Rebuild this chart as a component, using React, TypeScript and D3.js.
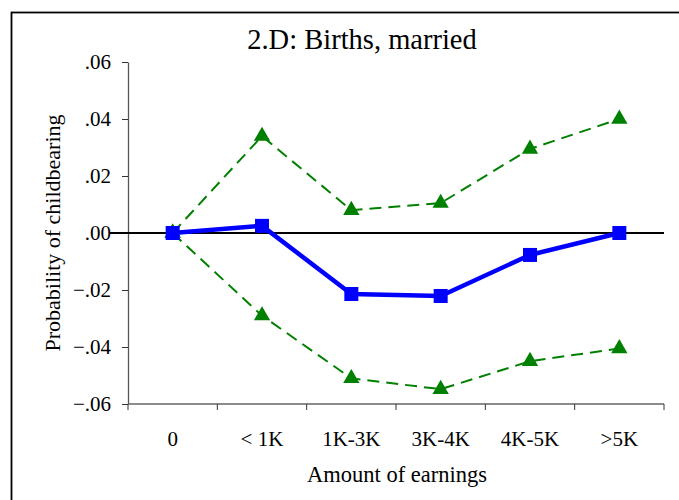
import React, { useEffect, useRef } from 'react';
import * as d3 from 'd3';

const categories = ['0', '< 1K', '1K-3K', '3K-4K', '4K-5K', '>5K'];
const estimate = [0, 0.0025, -0.0214, -0.0221, -0.0077, 0.0];
const upperBound = [0, 0.034, 0.008, 0.0105, 0.0295, 0.04];
const lowerBound = [0, -0.029, -0.051, -0.0548, -0.045, -0.0405];
const yTicks = [0.06, 0.04, 0.02, 0, -0.02, -0.04, -0.06];

const W = 679;
const H = 500;
const FONT = '"Liberation Serif", "Times New Roman", serif';

export default function App() {
  const svgRef = useRef<SVGSVGElement>(null);

  useEffect(() => {
    if (!svgRef.current) return;
    const svg = d3.select(svgRef.current);
    svg.selectAll('*').remove();

    const left = 128, right = 664, top = 62, bottom = 404;

    const x = d3.scaleBand<string>().domain(categories).range([left, right]);
    const y = d3.scaleLinear().domain([-0.06, 0.06]).range([bottom, top]);
    const cx = (c: string) => (x(c) as number) + x.bandwidth() / 2;

    // outer frame (right/bottom edges run off the page)
    svg.append('rect')
      .attr('x', 11.5).attr('y', 12.5)
      .attr('width', 800).attr('height', 800)
      .attr('fill', 'none').attr('stroke', '#000').attr('stroke-width', 1.8);

    svg.append('text')
      .attr('x', 362).attr('y', 49)
      .attr('text-anchor', 'middle')
      .style('font-family', FONT).style('font-size', '28.5px')
      .text('2.D: Births, married');

    // y axis
    const yAxis = svg.append('g').attr('transform', `translate(${left},0)`)
      .call(d3.axisLeft(y).tickValues(yTicks).tickSize(6).tickSizeOuter(0)
        .tickFormat((d) => d3.format('.2f')(d as number).replace('0.', '.')));
    yAxis.select('.domain').attr('stroke', '#555').attr('stroke-width', 1.3);
    yAxis.selectAll('.tick line').attr('stroke', '#333');
    yAxis.selectAll('.tick text')
      .attr('x', -17).attr('fill', '#000')
      .style('font-family', FONT).style('font-size', '21px');

    // x axis with ticks between categories
    const xAxis = svg.append('g').attr('transform', `translate(0,${bottom})`);
    xAxis.append('line')
      .attr('x1', left).attr('x2', right)
      .attr('stroke', '#666').attr('stroke-width', 1.6);
    const edges = categories.map((c) => (x(c) as number) + x.bandwidth()).concat([left]);
    xAxis.selectAll('line.tk').data(edges).enter().append('line')
      .attr('class', 'tk')
      .attr('x1', (d) => d).attr('x2', (d) => d)
      .attr('y1', 0).attr('y2', 6)
      .attr('stroke', '#333');
    xAxis.selectAll('text').data(categories).enter().append('text')
      .attr('x', (d) => cx(d)).attr('y', 42)
      .attr('text-anchor', 'middle')
      .style('font-family', FONT).style('font-size', '21px')
      .text((d) => d);

    svg.append('text')
      .attr('x', 397).attr('y', 482)
      .attr('text-anchor', 'middle')
      .style('font-family', FONT).style('font-size', '22.5px')
      .text('Amount of earnings');

    svg.append('text')
      .attr('transform', `translate(60,${(top + bottom) / 2}) rotate(-90)`)
      .attr('text-anchor', 'middle')
      .style('font-family', FONT).style('font-size', '22px')
      .text('Probability of childbearing');

    // zero reference line
    svg.append('line')
      .attr('x1', 110).attr('x2', right)
      .attr('y1', y(0)).attr('y2', y(0))
      .attr('stroke', '#000').attr('stroke-width', 2.2);

    const line = d3.line<number>()
      .x((_, i) => cx(categories[i]))
      .y((d) => y(d));

    [upperBound, lowerBound].forEach((series) => {
      svg.append('path')
        .attr('d', line(series))
        .attr('fill', 'none')
        .attr('stroke', '#008000')
        .attr('stroke-width', 2)
        .attr('stroke-dasharray', '12,7');
    });

    svg.append('path')
      .attr('d', line(estimate))
      .attr('fill', 'none')
      .attr('stroke', '#0000ff')
      .attr('stroke-width', 4.5);

    const tri = d3.symbol().type(d3.symbolTriangle).size(115);
    [upperBound, lowerBound].forEach((series) => {
      svg.append('g').selectAll('path').data(series).enter().append('path')
        .attr('d', tri as any)
        .attr('transform', (d, i) => `translate(${cx(categories[i])},${y(d)})`)
        .attr('fill', '#008000');
    });

    svg.append('g').selectAll('rect').data(estimate).enter().append('rect')
      .attr('x', (_, i) => cx(categories[i]) - 7)
      .attr('y', (d) => y(d) - 7)
      .attr('width', 14).attr('height', 14)
      .attr('fill', '#0000ff');
  }, []);

  return (
    <svg
      ref={svgRef}
      width={W}
      height={H}
      style={{ position: 'absolute', left: 0, top: 0, background: '#fff' }}
    />
  );
}
